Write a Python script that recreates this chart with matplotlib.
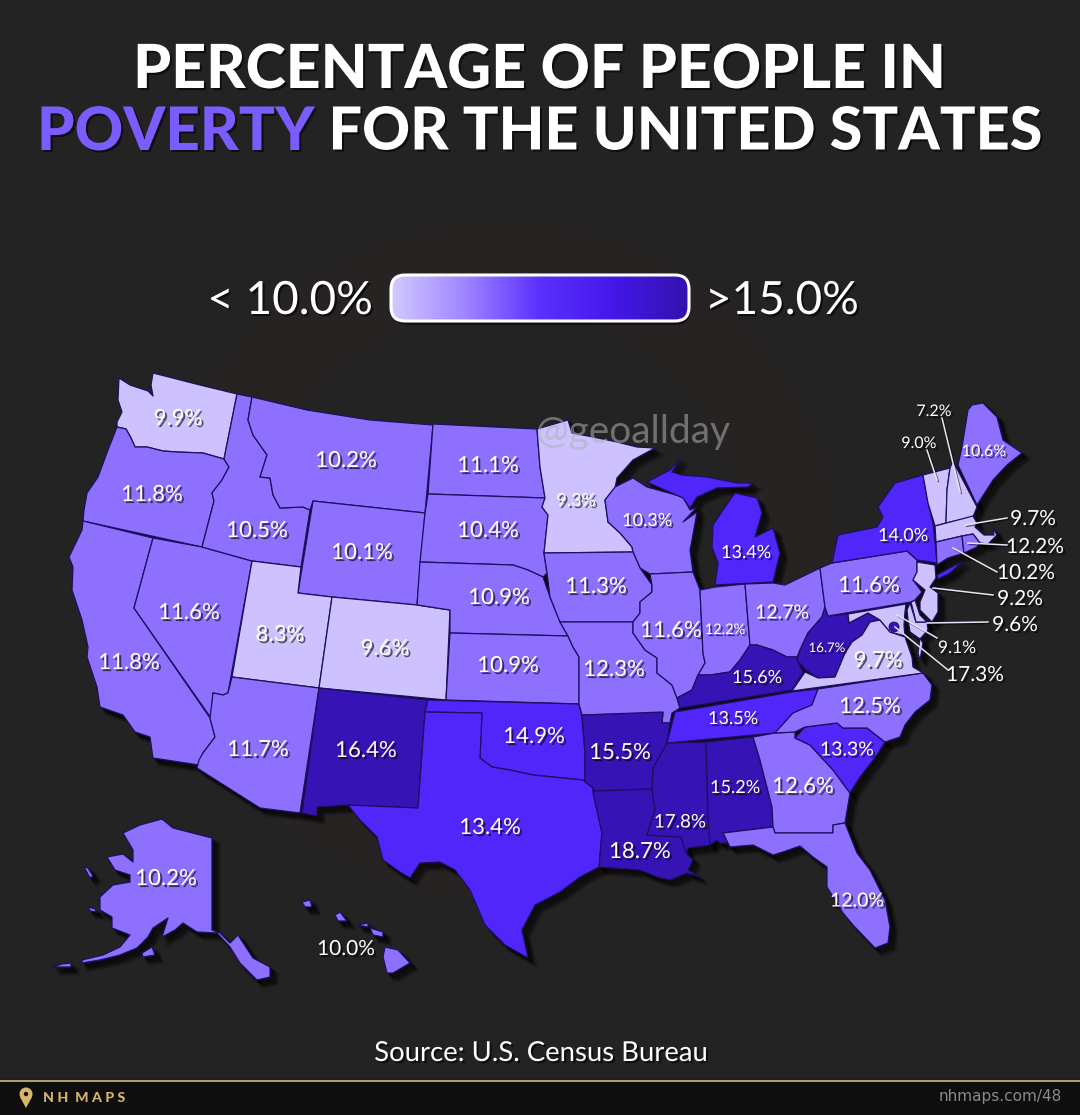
import numpy as np
import matplotlib
matplotlib.use("Agg")
import matplotlib.pyplot as plt
import matplotlib.patheffects as pe
from matplotlib.colors import BoundaryNorm, ListedColormap, LinearSegmentedColormap
from matplotlib.patches import Polygon, FancyBboxPatch, Circle

# ------------------------------- DATA ---------------------------------------
states = ["WA", "OR", "CA", "NV", "ID", "MT", "WY", "UT", "CO", "AZ", "NM",
          "ND", "SD", "NE", "KS", "OK", "TX", "MN", "IA", "MO", "AR", "LA",
          "WI", "IL", "IN", "MI", "OH", "KY", "TN", "MS", "AL", "GA", "FL",
          "SC", "NC", "VA", "WV", "PA", "NY", "ME", "AK", "HI",
          "NH", "VT", "MA", "RI", "CT", "NJ", "DE", "MD", "DC"]
poverty = [9.9, 11.8, 11.8, 11.6, 10.5, 10.2, 10.1, 8.3, 9.6, 11.7, 16.4,
           11.1, 10.4, 10.9, 10.9, 14.9, 13.4, 9.3, 11.3, 12.3, 15.5, 18.7,
           10.3, 11.6, 12.2, 13.4, 12.7, 15.6, 13.5, 17.8, 15.2, 12.6, 12.0,
           13.3, 12.5, 9.7, 16.7, 11.6, 14.0, 10.6, 10.2, 10.0,
           7.2, 9.0, 9.7, 12.2, 10.2, 9.2, 9.6, 9.1, 17.3]

class_edges = [0, 10, 13, 15, 30]
class_colors = ["#cdc2ff", "#8e70ff", "#5026fb", "#3513b4"]
legend_stops = ["#d2caff", "#9e84ff", "#5a30ff", "#4318e8", "#3311ae"]

outlines = {
    "WA": [[(119, 378), (130, 385), (148, 391), (153, 396), (151, 385), (153, 373), (200, 385), (237, 394),
            (224, 459), (203, 453), (177, 452), (163, 451), (147, 447), (135, 447), (131, 438), (126, 429),
            (117, 427), (117, 422), (122, 412), (118, 400)]],
    "OR": [[(117, 427), (126, 429), (131, 438), (135, 447), (147, 447), (163, 451), (177, 452), (203, 453),
            (224, 459), (229, 467), (222, 480), (212, 493), (214, 501), (202, 547), (83, 521), (84, 510),
            (87, 493), (98, 477), (108, 450)]],
    "CA": [[(83, 521), (153, 538), (134, 608), (210, 718), (215, 737), (203, 753), (199, 765), (153, 758),
            (150, 737), (135, 732), (123, 715), (100, 707), (97, 687), (87, 657), (88, 647), (82, 620),
            (72, 590), (73, 567), (69, 557), (82, 530)]],
    "NV": [[(153, 538), (202, 547), (252, 561), (228, 693), (223, 695), (213, 693), (211, 718), (134, 608)]],
    "ID": [[(237, 394), (252, 397), (248, 420), (253, 435), (267, 455), (260, 477), (270, 478), (273, 495),
            (280, 508), (303, 507), (310, 510), (301, 567), (252, 561), (202, 547), (214, 501), (212, 493),
            (222, 480), (229, 467), (224, 459)]],
    "MT": [[(252, 397), (307, 410), (370, 420), (433, 425), (425, 513), (313, 501), (310, 510), (303, 507),
            (280, 508), (273, 495), (270, 478), (260, 477), (267, 455), (253, 435), (248, 420)]],
    "WY": [[(313, 501), (425, 513), (417, 605), (332, 597), (298, 593)]],
    "UT": [[(252, 561), (301, 567), (298, 593), (332, 597), (319, 688), (232, 677)]],
    "CO": [[(332, 597), (417, 605), (450, 610), (446, 700), (319, 688)]],
    "AZ": [[(232, 677), (319, 688), (300, 813), (260, 808), (197, 768), (199, 760), (203, 753), (215, 737),
            (210, 718), (213, 693), (223, 695), (228, 693)]],
    "NM": [[(319, 688), (428, 700), (425, 712), (418, 808), (348, 805), (317, 807), (317, 816), (302, 813)]],
    "ND": [[(433, 424), (537, 429), (540, 467), (545, 498), (428, 494)]],
    "SD": [[(428, 494), (545, 498), (542, 507), (548, 515), (544, 553), (547, 573), (543, 577), (528, 570),
            (513, 565), (420, 562), (425, 513)]],
    "NE": [[(420, 562), (513, 565), (528, 570), (543, 577), (550, 597), (560, 622), (568, 636), (450, 633),
            (450, 610), (417, 605)]],
    "KS": [[(450, 633), (568, 636), (573, 647), (579, 657), (579, 704), (446, 700)]],
    "OK": [[(428, 700), (579, 704), (582, 717), (585, 753), (585, 782), (593, 788), (583, 780), (553, 777),
            (533, 775), (510, 770), (492, 767), (480, 758), (482, 713), (425, 712)]],
    "TX": [[(425, 712), (482, 713), (480, 758), (492, 767), (510, 770), (533, 775), (553, 777), (583, 780),
            (593, 788), (593, 792), (602, 833), (599, 867), (580, 877), (560, 892), (535, 905), (522, 930),
            (528, 958), (505, 945), (485, 925), (470, 890), (455, 870), (440, 862), (420, 863), (410, 878),
            (400, 872), (383, 860), (377, 837), (360, 820), (348, 805), (418, 808)]],
    "MN": [[(537, 429), (568, 420), (572, 433), (593, 437), (617, 442), (637, 447), (655, 448), (633, 460),
            (617, 478), (615, 488), (605, 500), (608, 522), (620, 533), (632, 547), (633, 552), (544, 553),
            (548, 515), (542, 507), (545, 498), (540, 467)]],
    "WI": [[(615, 487), (633, 478), (647, 487), (683, 497), (690, 510), (697, 507), (683, 522), (697, 512),
            (692, 540), (690, 550), (693, 572), (650, 574), (640, 568), (633, 552), (632, 547), (620, 533),
            (608, 522), (605, 500)]],
    "IA": [[(544, 553), (633, 552), (640, 568), (652, 585), (652, 592), (640, 602), (640, 613), (633, 622),
            (560, 622), (550, 597), (547, 573)]],
    "MO": [[(560, 622), (633, 622), (633, 633), (645, 650), (657, 658), (657, 673), (672, 685), (677, 698),
            (680, 708), (672, 713), (670, 723), (662, 723), (663, 713), (582, 715), (579, 704), (579, 657),
            (573, 647), (568, 636)]],
    "IL": [[(650, 574), (693, 572), (700, 590), (703, 653), (705, 663), (698, 675), (692, 690), (677, 698),
            (672, 685), (657, 673), (657, 658), (645, 650), (633, 633), (633, 622), (640, 613), (640, 602),
            (652, 592), (652, 585)]],
    "IN": [[(700, 590), (715, 587), (745, 584), (750, 645), (740, 660), (730, 672), (710, 675), (698, 675),
            (705, 663), (703, 653)]],
    "MI": [[(715, 585), (773, 582), (780, 553), (773, 528), (765, 532), (755, 537), (762, 513), (757, 498),
            (735, 493), (725, 507), (713, 525), (712, 547), (718, 563)],
           [(647, 482), (670, 470), (680, 458), (672, 472), (682, 475), (707, 477), (737, 483), (753, 483),
            (748, 487), (717, 488), (697, 497), (690, 508), (683, 498)]],
    "OH": [[(745, 584), (773, 583), (785, 585), (820, 568), (825, 607), (822, 617), (808, 633), (800, 650),
            (797, 657), (787, 657), (773, 650), (757, 645), (750, 645)]],
    "KY": [[(750, 645), (757, 645), (773, 650), (787, 657), (797, 657), (797, 660), (803, 672), (792, 690),
            (680, 708), (677, 698), (692, 690), (698, 675), (710, 675), (730, 672), (740, 660)]],
    "TN": [[(675, 712), (792, 692), (818, 689), (812, 705), (793, 713), (775, 733), (667, 743)]],
    "AR": [[(582, 715), (663, 712), (662, 723), (670, 723), (667, 743), (653, 768), (652, 789), (595, 791),
            (593, 788), (585, 782), (585, 753)]],
    "LA": [[(595, 791), (652, 789), (655, 810), (647, 835), (681, 837), (686, 853), (693, 860), (688, 870),
            (700, 877), (687, 873), (670, 880), (657, 877), (640, 870), (599, 867), (602, 833), (593, 792)]],
    "MS": [[(667, 743), (706, 742), (708, 817), (710, 845), (688, 848), (686, 853), (681, 837), (647, 835),
            (655, 810), (652, 789), (653, 768)]],
    "AL": [[(706, 742), (753, 737), (760, 760), (772, 807), (773, 827), (723, 833), (728, 843), (720, 843),
            (717, 840), (710, 845), (708, 817)]],
    "GA": [[(753, 737), (775, 733), (795, 732), (795, 738), (810, 745), (833, 770), (850, 793), (845, 823),
            (833, 825), (833, 833), (775, 833), (773, 827), (772, 807), (760, 760)]],
    "FL": [[(723, 833), (773, 827), (775, 833), (833, 833), (833, 825), (845, 823), (857, 853), (870, 870),
            (885, 900), (890, 927), (888, 943), (875, 948), (853, 925), (843, 913), (827, 887), (827, 867),
            (813, 857), (800, 846), (783, 852), (773, 855), (753, 845), (730, 847), (728, 843)]],
    "SC": [[(795, 738), (805, 727), (837, 723), (843, 728), (867, 728), (885, 742), (877, 755), (860, 777),
            (850, 793), (833, 770), (810, 745)]],
    "NC": [[(818, 689), (923, 673), (932, 685), (930, 700), (915, 712), (905, 725), (900, 737), (885, 742),
            (867, 728), (843, 728), (837, 723), (805, 727), (795, 732), (775, 733), (793, 713), (812, 705)]],
    "WV": [[(825, 607), (828, 616), (848, 614), (849, 623), (868, 613), (880, 620), (870, 622), (862, 635),
            (852, 642), (845, 653), (835, 677), (818, 678), (806, 670), (797, 660), (800, 650), (808, 633),
            (822, 617)]],
    "VA": [[(792, 691), (805, 672), (818, 678), (835, 677), (845, 653), (852, 642), (862, 635), (870, 622),
            (880, 620), (890, 632), (905, 637), (912, 657), (913, 667), (923, 673)],
           [(920, 638), (923, 643), (920, 660), (918, 653)]],
    "MD": [[(848, 614), (906, 604), (905, 612), (904, 625), (905, 636), (890, 632), (880, 620), (868, 613),
            (849, 623)],
           [(910, 603), (916, 622), (927, 622), (928, 630), (920, 639), (910, 632), (908, 620), (907, 610)]],
    "DE": [[(911, 602), (915, 600), (920, 615), (927, 622), (916, 622)]],
    "PA": [[(832, 563), (907, 551), (917, 560), (917, 572), (913, 580), (922, 592), (915, 600), (911, 602),
            (828, 616), (825, 607), (820, 568)]],
    "NY": [[(832, 563), (838, 535), (877, 527), (883, 517), (878, 507), (895, 483), (923, 475), (928, 503),
            (933, 523), (937, 563), (917, 560), (907, 551)],
           [(937, 575), (963, 561), (950, 573), (938, 579)]],
    "NJ": [[(917, 562), (935, 565), (936, 578), (930, 587), (938, 593), (938, 612), (932, 622), (920, 610),
            (920, 602), (925, 590), (913, 580), (917, 572)]],
    "VT": [[(923, 475), (950, 468), (947, 490), (946, 523), (935, 526), (928, 503)]],
    "NH": [[(952, 463), (955, 465), (977, 507), (973, 517), (946, 523), (947, 490), (950, 468)]],
    "ME": [[(968, 410), (972, 405), (983, 403), (997, 417), (1003, 440), (1022, 453), (1007, 465), (993, 480),
            (977, 505), (958, 465), (962, 447)]],
    "MA": [[(935, 526), (973, 516), (977, 523), (975, 527), (984, 535), (994, 535), (993, 528), (997, 535),
            (988, 544), (980, 543), (973, 534), (962, 536), (936, 542)]],
    "CT": [[(936, 542), (962, 536), (964, 553), (948, 558), (937, 565)]],
    "RI": [[(962, 536), (973, 534), (980, 543), (977, 547), (964, 553)]],
    "AK": [[(123, 833), (140, 825), (162, 819), (173, 828), (212, 838), (212, 930), (220, 933), (230, 943),
            (238, 935), (253, 958), (270, 967), (270, 977), (257, 980), (240, 963), (230, 947), (217, 933),
            (197, 932), (183, 923), (175, 930), (162, 937), (168, 918), (153, 928), (148, 937), (137, 948),
            (120, 955), (100, 960), (82, 963), (82, 960), (103, 955), (120, 947), (130, 935), (112, 928),
            (112, 917), (100, 910), (100, 897), (113, 885), (130, 882), (130, 875), (115, 870), (107, 857),
            (123, 854), (133, 862), (133, 850)],
           [(142, 953), (152, 947), (155, 955), (143, 957)],
           [(84, 867), (88, 868), (93, 876), (90, 878)],
           [(88, 907), (95, 909), (97, 912), (90, 911)],
           [(53, 967), (62, 964), (71, 963), (71, 967), (60, 967)]],
    "HI": [[(302, 902), (310, 900), (312, 907), (305, 907)],
           [(335, 915), (340, 912), (347, 921), (338, 921)],
           [(357, 925), (368, 923), (368, 927)],
           [(370, 928), (383, 932), (383, 937), (373, 935)],
           [(385, 947), (398, 950), (410, 963), (393, 973), (387, 973), (383, 957)]],
}

# label layout: centre x, centre y, font size
labels = {
    "WA": (178, 419, 16), "OR": (152, 495, 16), "CA": (129, 663, 16), "NV": (189, 613, 16),
    "ID": (257, 531, 16), "MT": (346, 461, 16), "WY": (362, 553, 16), "UT": (280, 635, 16),
    "CO": (385, 649, 16), "AZ": (258, 750, 16), "NM": (366, 751, 16), "ND": (488, 466, 16),
    "SD": (488, 531, 16), "NE": (499, 598, 16), "KS": (508, 666, 16), "OK": (534, 737, 16),
    "TX": (490, 828, 16), "MN": (576, 501, 13), "IA": (596, 587, 16), "MO": (614, 670, 16),
    "AR": (620, 753, 16), "LA": (640, 852, 16), "WI": (647, 521, 13), "IL": (671, 631, 16),
    "IN": (725, 630, 10.5), "MI": (746, 553, 13), "OH": (782, 613, 14), "KY": (757, 678, 13),
    "TN": (733, 719, 13), "MS": (680, 822, 13.5), "AL": (735, 788, 13), "GA": (803, 787, 16),
    "FL": (857, 901, 14), "SC": (847, 750, 14), "NC": (870, 707, 16), "VA": (878, 661, 16),
    "WV": (827, 648, 9.5), "PA": (869, 586, 16), "NY": (903, 536, 13), "ME": (984, 452, 11.5),
    "AK": (166, 879, 16), "HI": (346, 949, 15),
    "NH": (934, 412, 11.5), "VT": (919, 444, 11.5), "MA": (1033, 519, 15), "RI": (1035, 547, 15),
    "CT": (1026, 573, 15), "NJ": (1020, 599, 15), "DE": (1015, 625, 15), "MD": (957, 648, 12.5),
    "DC": (975, 675, 15),
}

# callout leaders for the small eastern states
leaders = {
    "NH": ((942, 418), (960, 492)), "VT": ((927, 450), (937, 480)), "MA": ((1007, 518), (965, 525)),
    "RI": ((1007, 545), (968, 543)), "CT": ((997, 572), (953, 548)), "NJ": ((993, 595), (933, 588)),
    "DE": ((988, 622), (927, 623)), "MD": ((937, 638), (897, 615)), "DC": ((948, 670), (895, 627)),
}

# ------------------------------- FIGURE -------------------------------------
bg = "#232323"
font = ["Lato", "DejaVu Sans"]
plt.rcParams["font.family"] = font

fig = plt.figure(figsize=(10.8, 11.15), dpi=100, facecolor=bg)
ax = fig.add_axes([0, 0, 1, 1])
ax.set_xlim(0, 1080)
ax.set_ylim(1115, 0)
ax.axis("off")

shadow = [pe.withSimplePatchShadow(offset=(1.5, -1.5), shadow_rgbFace="black", alpha=0.6)]

# faint logo behind the map
for r, c in [(340, "#3a2a1e"), (250, "#1d2630")]:
    ax.add_patch(Circle((500, 560), r, fc=c, ec="none", alpha=0.14, zorder=0))

# ------------------------------- TITLE --------------------------------------
ax.text(540, 70, "PERCENTAGE OF PEOPLE IN", color="white", fontsize=43.8, fontweight="black",
        ha="center", va="center", path_effects=shadow)
ax.text(37, 132, "POVERTY", color="#7b5cff", fontsize=43.2, fontweight="black",
        ha="left", va="center", path_effects=shadow)
ax.text(1042, 132, "FOR THE UNITED STATES", color="white", fontsize=42.7, fontweight="black",
        ha="right", va="center", path_effects=shadow)

# ------------------------------- LEGEND -------------------------------------
ax.text(373, 301, "< 10.0%", color="white", fontsize=33, ha="right", va="center", path_effects=shadow)
ax.text(705, 301, ">15.0%", color="white", fontsize=33, ha="left", va="center", path_effects=shadow)
legend_cmap = LinearSegmentedColormap.from_list("legend", legend_stops)
box_shadow = FancyBboxPatch((394, 279), 296, 46, boxstyle="round,pad=0,rounding_size=14",
                            fc="black", ec="none", alpha=0.5, zorder=2)
ax.add_patch(box_shadow)
im = ax.imshow(np.linspace(0, 1, 256).reshape(1, -1), cmap=legend_cmap, aspect="auto",
               extent=(391, 689, 321, 275), zorder=3)
box = FancyBboxPatch((391, 275), 298, 46, boxstyle="round,pad=0,rounding_size=14",
                     fc="none", ec="white", lw=2.2, zorder=4)
ax.add_patch(box)
im.set_clip_path(box)
ax.set_xlim(0, 1080)
ax.set_ylim(1115, 0)

# ------------------------------- MAP ----------------------------------------
cmap = ListedColormap(class_colors)
norm = BoundaryNorm(class_edges, cmap.N)
value_of = dict(zip(states, poverty))

# soft drop shadow, a stack of faint offset copies
for dx in range(1, 8):
    for rings in outlines.values():
        for ring in rings:
            ax.add_patch(Polygon(np.array(ring) + dx, closed=True, fc="black", ec="black",
                                 lw=dx * 0.4, alpha=0.13, zorder=5))

for st, rings in outlines.items():
    for ring in rings:
        ax.add_patch(Polygon(ring, closed=True, fc=cmap(norm(value_of[st])), ec="#1c1060",
                             lw=0.9, joinstyle="round", zorder=6))

# DC is too small to trace, just a dot
ax.add_patch(Circle((894, 627), 5, fc=cmap(norm(value_of["DC"])), ec="#1c1060", lw=0.6, zorder=7))

for st, (p0, p1) in leaders.items():
    ax.plot([p0[0], p1[0]], [p0[1], p1[1]], color="#e8e4f5", lw=1.1, zorder=8,
            path_effects=[pe.SimpleLineShadow(offset=(1, -1), shadow_color="black", alpha=0.5), pe.Normal()])

for st, val in zip(states, poverty):
    x, y, size = labels[st]
    ax.text(x, y, f"{val:.1f}%", color="white", fontsize=size, ha="center", va="center",
            zorder=9, path_effects=shadow)

ax.text(633, 432, "@geoallday", color="#b0b0b0", alpha=0.55, fontsize=28, ha="center", va="center", zorder=8)

# ------------------------------- FOOTER -------------------------------------
ax.text(541, 1053, "Source: U.S. Census Bureau", color="white", fontsize=19.8, ha="center", va="center",
        zorder=9, path_effects=shadow)
ax.axhspan(1080, 1115, color="#0e0e0e", zorder=1)
ax.axhline(1080.5, color="#c8ab74", lw=1.3, zorder=2)
gold = "#d8b56a"
ax.add_patch(Circle((26, 1094), 6.5, fc=gold, ec="none", zorder=3))
ax.add_patch(Polygon([(20, 1097), (32, 1097), (26, 1108)], closed=True, fc=gold, ec="none", zorder=3))
ax.add_patch(Circle((26, 1094), 2.2, fc="#0e0e0e", ec="none", zorder=4))
ax.text(43, 1098, "N H  M A P S", color=gold, fontsize=10.2, fontweight="black", ha="left", va="center", zorder=4)
ax.text(1062, 1097, "nhmaps.com/48", color="#8a8a8a", fontsize=11, ha="right", va="center", zorder=4,
        family="DejaVu Sans")

fig.savefig("out.png", dpi=100, facecolor=bg)
